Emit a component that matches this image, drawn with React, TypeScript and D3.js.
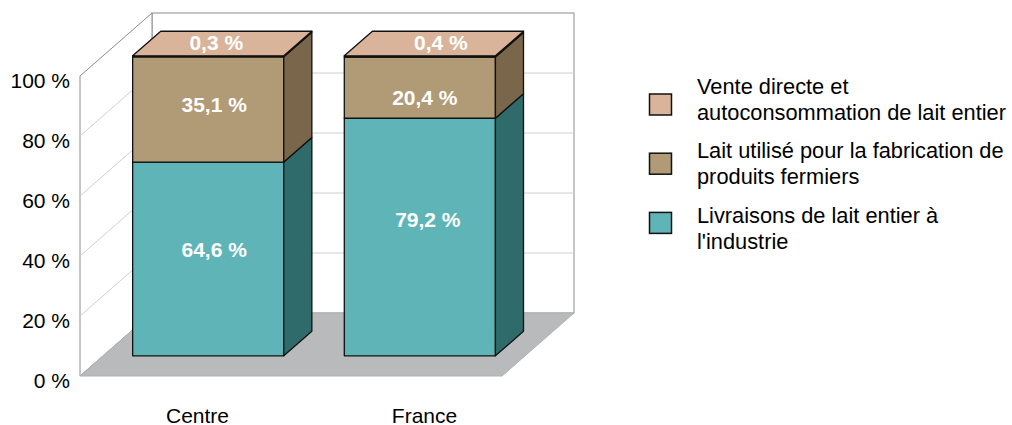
import * as d3 from 'd3'

const categories = ['Centre', 'France']
const livraisons = [64.6, 79.2]
const fabrication = [35.1, 20.4]
const venteDirecte = [0.3, 0.4]
const valueLabels = [
  ['64,6 %', '35,1 %', '0,3 %'],
  ['79,2 %', '20,4 %', '0,4 %'],
]
const yTicks = [0, 20, 40, 60, 80, 100]
const legendLines = [
  ['Vente directe et', 'autoconsommation de lait entier'],
  ['Lait utilisé pour la fabrication de', 'produits fermiers'],
  ['Livraisons de lait entier à', "l'industrie"],
]

// bottom -> top
const seriesColors = [
  { front: '#5fb4b7', side: '#2e6b6a', top: '#8fcfd0' },
  { front: '#b19a76', side: '#7a674b', top: '#c8b392' },
  { front: '#d9b49a', side: '#a08470', top: '#d9b49a' },
]
const legendColors = ['#d9b49a', '#b19a76', '#5fb4b7']

const font = '"Liberation Sans", Arial, sans-serif'

export default function App() {
  const width = 1012
  const height = 425

  // 3D frame
  const DX = 72
  const DY = 63
  const f0 = 0.32
  const f1 = 0.71

  const y = d3.scaleLinear().domain([0, 100]).range([376, 76])
  const x = d3.scaleBand<string>().domain(categories).range([80, 502]).paddingInner(0.286).paddingOuter(0.14)
  const labelX = d3.scaleBand<string>().domain(categories).range([84, 538])

  const rows = categories.map((c, i) => ({ cat: c, a: livraisons[i], b: fabrication[i], c2: venteDirecte[i] }))
  const stacked = d3.stack<any>().keys(['a', 'b', 'c2'])(rows)

  const wallLeft = 80
  const wallRight = 502
  const back = (px: number, py: number) => [px + DX, py - DY]

  const bw = x.bandwidth()
  const ddx = (f1 - f0) * DX
  const ddy = (f1 - f0) * DY

  // label nudges [dx, dy] relative to segment centre
  const nudges = [
    [[6, -10], [6, -4.5], [-6, -1]],
    [[8, -18], [5, 10], [7, -1]],
  ]

  const pts = (p: number[][]) => p.map(q => q.join(',')).join(' ')

  const [blx, bly0] = back(wallLeft, y(0))
  const [, bly100] = back(wallLeft, y(100))
  const [brx] = back(wallRight, y(0))

  return (
    <svg width={width} height={height} style={{ position: 'absolute', left: 0, top: 0, background: '#fff' }} fontFamily={font}>
      {/* back wall */}
      <rect x={blx} y={bly100} width={brx - blx} height={bly0 - bly100} fill="#fff" stroke="#8c8c8c" strokeWidth={1} />
      {/* left wall */}
      <polygon points={pts([[wallLeft, y(0)], [wallLeft, y(100)], [blx, bly100], [blx, bly0]])} fill="#fff" stroke="#8c8c8c" strokeWidth={1} />
      {/* grid */}
      {yTicks.filter(v => v > 0 && v < 100).map(v => {
        const [bx, by] = back(wallLeft, y(v))
        return (
          <g key={v} stroke="#cfcfcf" strokeWidth={1}>
            <line x1={wallLeft} y1={y(v)} x2={bx} y2={by} />
            <line x1={bx} y1={by} x2={brx} y2={by} />
          </g>
        )
      })}
      {/* floor */}
      <polygon points={pts([[wallLeft, y(0)], [wallRight, y(0)], back(wallRight, y(0)), back(wallLeft, y(0))])} fill="#b9babc" stroke="#b0b0b2" strokeWidth={1} />

      {/* bars */}
      {categories.map((c, ci) => {
        const bx0 = (x(c) ?? 0) + f0 * DX
        const bx1 = bx0 + bw
        const yy = (v: number) => y(v) - f0 * DY
        const topVal = stacked[stacked.length - 1][ci][1]
        return (
          <g key={c} stroke="#111" strokeWidth={1.3} strokeLinejoin="round">
            {stacked.map((s, si) => {
              const [v0, v1] = s[ci]
              const col = seriesColors[si]
              return (
                <g key={si}>
                  <rect x={bx0} y={yy(v1)} width={bw} height={yy(v0) - yy(v1)} fill={col.front} />
                  <polygon points={pts([[bx1, yy(v0)], [bx1 + ddx, yy(v0) - ddy], [bx1 + ddx, yy(v1) - ddy], [bx1, yy(v1)]])} fill={col.side} />
                </g>
              )
            })}
            <polygon
              points={pts([[bx0, yy(topVal)], [bx1, yy(topVal)], [bx1 + ddx, yy(topVal) - ddy], [bx0 + ddx, yy(topVal) - ddy]])}
              fill={seriesColors[2].top}
            />
          </g>
        )
      })}

      {/* value labels */}
      {categories.map((c, ci) => {
        const bx0 = (x(c) ?? 0) + f0 * DX
        const cx = bx0 + bw / 2
        const yy = (v: number) => y(v) - f0 * DY
        return stacked.map((s, si) => {
          const [v0, v1] = s[ci]
          const [nx, ny] = nudges[ci][si]
          let lx = cx + nx
          let ly = (yy(v0) + yy(v1)) / 2 + ny
          if (si === 2) {
            lx = cx + ddx / 2 + nx
            ly = yy(v1) - ddy / 2 + ny
          }
          return (
            <text key={`${c}-${si}`} x={lx} y={ly} dy="0.36em" textAnchor="middle" fill="#fff" fontWeight="bold" fontSize={21}>
              {valueLabels[ci][si]}
            </text>
          )
        })
      })}

      {/* y axis labels */}
      {yTicks.map(v => (
        <text key={v} x={70} y={y(v) + 4} dy="0.36em" textAnchor="end" fontSize={21} fill="#000">
          {`${v} %`}
        </text>
      ))}

      {/* category labels */}
      {categories.map(c => (
        <text key={c} x={(labelX(c) ?? 0) + labelX.bandwidth() / 2} y={422.5} textAnchor="middle" fontSize={21} fill="#000">
          {c}
        </text>
      ))}

      {/* legend */}
      {legendLines.map((lines, i) => (
        <g key={i}>
          <rect x={649.5} y={94 + i * 59.2} width={22} height={21} fill={legendColors[i]} stroke="#111" strokeWidth={1.5} />
          {lines.map((t, li) => (
            <text key={li} x={697} y={94 + i * 64.3 + li * 26} fontSize={21.8} fill="#000">
              {t}
            </text>
          ))}
        </g>
      ))}
    </svg>
  )
}
